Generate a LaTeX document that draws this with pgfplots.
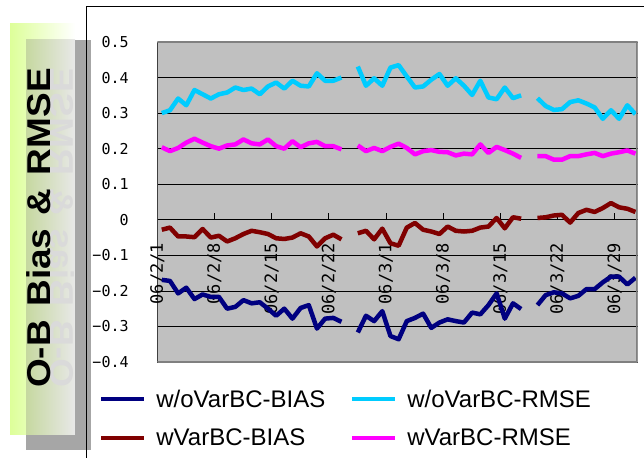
\documentclass[border=0pt]{standalone}
\usepackage{fontspec}
\setmainfont{Liberation Sans}
\newfontfamily\tickfont{DejaVu Sans Mono}
\usepackage{pgfplots}
\pgfplotsset{compat=1.18}
\usepackage{pgfplotstable}

\definecolor{navybias}{HTML}{000080}
\definecolor{cyanrmse}{HTML}{00CCFF}
\definecolor{redbias}{HTML}{800000}
\definecolor{magrmse}{HTML}{FF00FF}
\definecolor{plotbg}{HTML}{C0C0C0}
\definecolor{frameg}{HTML}{808080}
\definecolor{shadowg}{HTML}{A6A6A6}
\definecolor{limeg}{HTML}{DDFF99}
\definecolor{mixleft}{HTML}{C6D8A0}
\definecolor{mixright}{HTML}{E8E8E8}
\definecolor{ghost}{HTML}{DADADA}

% daily O-B statistics, day 0 = 2006-02-01 (nan = no data)
\pgfplotstableread{
d   nb      cr     rb      mr
0   -0.169  0.300  -0.028  0.204
1   -0.172  0.308  -0.022  0.193
2   -0.207  0.341  -0.047  0.202
3   -0.191  0.322  -0.047  0.217
4   -0.223  0.365  -0.049  0.228
5   -0.210  0.353  -0.026  0.217
6   -0.217  0.341  -0.050  0.207
7   -0.217  0.353  -0.045  0.200
8   -0.250  0.358  -0.061  0.209
9   -0.245  0.372  -0.052  0.212
10  -0.226  0.365  -0.040  0.226
11  -0.235  0.369  -0.031  0.215
12  -0.232  0.353  -0.035  0.212
13  -0.250  0.375  -0.040  0.226
14  -0.270  0.386  -0.052  0.207
15  -0.250  0.369  -0.054  0.200
16  -0.278  0.391  -0.050  0.221
17  -0.248  0.377  -0.038  0.204
18  -0.240  0.375  -0.047  0.215
19  -0.306  0.412  -0.075  0.219
20  -0.278  0.391  -0.052  0.207
21  -0.276  0.391  -0.042  0.207
22  -0.287  0.400  -0.055  0.198
23  nan     nan    nan     nan
24  -0.317  0.431  -0.038  0.209
25  -0.270  0.377  -0.031  0.193
26  -0.285  0.398  -0.055  0.202
27  -0.257  0.377  -0.025  0.193
28  -0.327  0.428  -0.066  0.205
29  -0.336  0.435  -0.073  0.214
30  -0.285  0.403  -0.022  0.202
31  -0.276  0.372  -0.009  0.184
32  -0.264  0.375  -0.028  0.193
33  -0.304  0.394  -0.033  0.196
34  -0.289  0.410  -0.040  0.191
35  -0.280  0.377  -0.019  0.190
36  -0.285  0.398  -0.031  0.181
37  -0.289  0.377  -0.033  0.186
38  -0.261  0.351  -0.031  0.184
39  -0.266  0.391  -0.022  0.212
40  -0.240  0.344  -0.019  0.188
41  -0.207  0.339   0.005  0.205
42  -0.278  0.372  -0.024  0.196
43  -0.235  0.342   0.007  0.186
44  -0.251  0.350   0.003  0.174
45  nan     nan    nan     nan
46  -0.240  0.342   0.005  0.179
47  -0.212  0.320   0.007  0.179
48  -0.204  0.309   0.012  0.169
49  -0.207  0.311   0.014  0.169
50  -0.221  0.331  -0.008  0.179
51  -0.214  0.336   0.019  0.179
52  -0.195  0.327   0.028  0.184
53  -0.195  0.316   0.022  0.188
54  -0.176  0.284   0.033  0.179
55  -0.160  0.308   0.047  0.186
56  -0.160  0.284   0.035  0.190
57  -0.182  0.322   0.031  0.195
58  -0.163  0.297   0.022  0.186
}\obdata

\newcommand\titletext{O-B\hspace{12bp}Bias\hspace{12bp}\&\hspace{12bp}RMSE}

\begin{document}
\begin{tikzpicture}
\useasboundingbox (0,0) rectangle (644bp,458bp);

% title panel with drop shadow
\shade[left color=limeg, right color=white] (10bp,23bp) rectangle (75bp,434bp);
\shade[left color=mixleft, right color=mixright] (26bp,23bp) rectangle (75bp,418bp);
\fill[shadowg] (75bp,8bp) rectangle (91bp,418bp);
\fill[shadowg] (26bp,8bp) rectangle (75bp,23bp);
\node[rotate=90, xscale=1.12, yscale=-1, anchor=base, inner sep=0pt, text=ghost,
      font=\fontsize{33bp}{37bp}\selectfont\bfseries] at (50bp,230bp) {\titletext};
\node[rotate=90, xscale=1.12, anchor=base, inner sep=0pt,
      font=\fontsize{33bp}{37bp}\selectfont\bfseries] at (50bp,230bp) {\titletext};

% chart frame
\draw[black, line width=1bp] (86bp,0bp) -- (86bp,451bp) -- (644bp,451bp);

\begin{axis}[
  at={(157.3bp,96bp)}, anchor=south west,
  scale only axis, width=480.2bp, height=320bp,
  xmin=0, xmax=58.8, ymin=-0.4, ymax=0.5,
  axis x line=middle, axis y line=left, axis line style={-},
  x axis line style={black, line width=0.7bp},
  y axis line style={draw={rgb,255:red,64;green,64;blue,64}, line width=1.6bp},
  hide obscured x ticks=false, hide obscured y ticks=false,
  axis background/.style={fill=plotbg},
  xtick={0,7,14,21,28,35,42,49,56},
  xticklabels={06/2/1,06/2/8,06/2/15,06/2/22,06/3/1,06/3/8,06/3/15,06/3/22,06/3/29},
  xtick align=inside, major tick length=7bp,
  x tick style={black, line width=0.7bp},
  xticklabel style={yshift=-23bp, rotate=90, anchor=east, inner sep=0pt,
                    font=\tickfont\fontsize{17bp}{20bp}\selectfont},
  ytick={-0.4,-0.3,-0.2,-0.1,0,0.1,0.2,0.3,0.4,0.5},
  yticklabels={−0.4,−0.3,−0.2,−0.1,0,0.1,0.2,0.3,0.4,0.5},
  y tick style={draw=none},
  yticklabel style={anchor=east, inner sep=0pt, xshift=-25bp,
                    font=\tickfont\fontsize{15bp}{18bp}\selectfont},
  ymajorgrids, grid style={black, line width=0.7bp},
  unbounded coords=jump,
  legend columns=2,
  legend cell align=left,
  legend style={at={(axis description cs:-0.121,-0.086)}, anchor=north west,
    draw=none, fill=none, inner sep=0pt,
    font=\fontsize{24bp}{28bp}\selectfont,
    nodes={inner sep=0pt},
    /tikz/every odd column/.append style={column sep=10bp},
    /tikz/every even column/.append style={column sep=25bp},
    row sep=20bp},
  legend image code/.code={\draw[#1, line width=4bp] (0bp,0bp) -- (43bp,0bp);},
]
\addplot[navybias, line width=4.5bp, line join=round] table[x expr=\thisrow{d}+0.55, y=nb] {\obdata};
\addlegendentry{w/oVarBC-BIAS}
\addplot[cyanrmse, line width=4.5bp, line join=round] table[x expr=\thisrow{d}+0.55, y=cr] {\obdata};
\addlegendentry{w/oVarBC-RMSE}
\addplot[redbias, line width=4.5bp, line join=round] table[x expr=\thisrow{d}+0.55, y=rb] {\obdata};
\addlegendentry{wVarBC-BIAS}
\addplot[magrmse, line width=4.5bp, line join=round] table[x expr=\thisrow{d}+0.55, y=mr] {\obdata};
\addlegendentry{wVarBC-RMSE}
\draw[frameg, line width=1.2bp] (rel axis cs:0,1) -- (rel axis cs:1,1);
\draw[frameg, line width=2.2bp] (rel axis cs:1,1) -- (rel axis cs:1,0) -- (rel axis cs:0,0);
\end{axis}
\end{tikzpicture}
\end{document}
